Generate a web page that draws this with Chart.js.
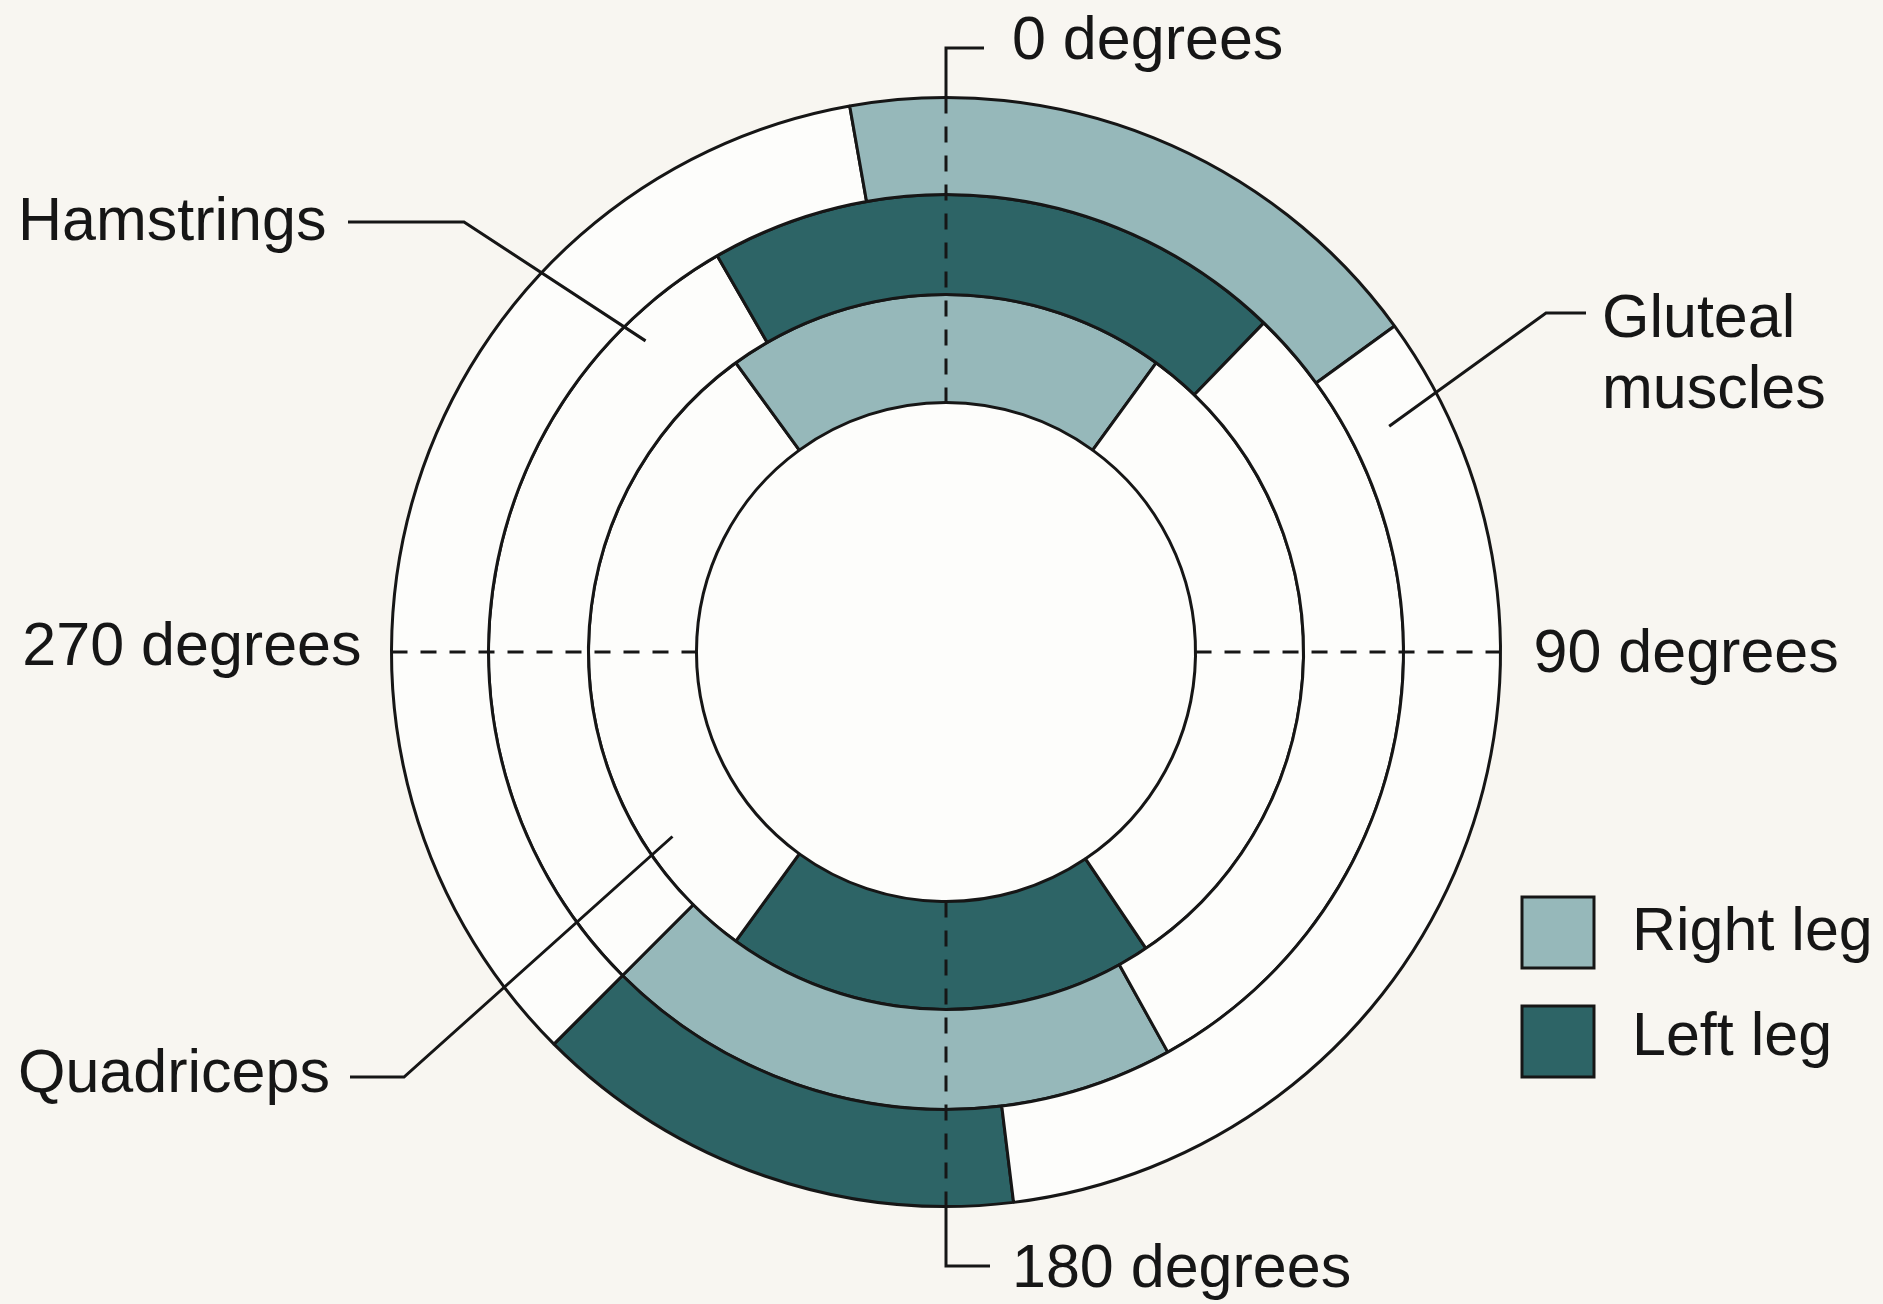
<!DOCTYPE html>
<html>
<head>
<meta charset="utf-8">
<script src="https://cdn.jsdelivr.net/npm/chart.js@4.4.0/dist/chart.umd.min.js"></script>
<style>
  html, body { margin: 0; padding: 0; background: #f8f6f1; }
  #wrap { width: 1883px; height: 1304px; position: relative; }
</style>
</head>
<body>
<div id="wrap"><canvas id="myChart"></canvas></div>
<script>
// rings, outermost first
const muscles = ['Gluteal muscles', 'Hamstrings', 'Quadriceps'];
const legs = ['Right leg', 'Left leg'];

// active arc of each leg, degrees clockwise from 0 (top)
const rightStart = [-10, 151, -36];
const rightEnd   = [54, 225, 36];
const leftStart  = [173, -30, 146];
const leftEnd    = [225, 44, 216];

const axisLabels = ['0 degrees', '90 degrees', '180 degrees', '270 degrees'];

const legColors = ['#96b8ba', '#2d6466'];
const blank = '#fdfdfb';
const ink = '#161616';
const ringWeight = [97, 100, 108];

function buildRing(i) {
  const arcs = [
    {s: rightStart[i], e: rightEnd[i], c: legColors[0]},
    {s: leftStart[i], e: leftEnd[i], c: legColors[1]}
  ].map(function(a) {
    const s = ((a.s % 360) + 360) % 360;
    return {s: s, e: s + (a.e - a.s), c: a.c};
  }).sort(function(a, b) { return a.s - b.s; });

  const data = [], colors = [];
  arcs.forEach(function(a, k) {
    const next = k < arcs.length - 1 ? arcs[k + 1].s : arcs[0].s + 360;
    data.push(a.e - a.s); colors.push(a.c);
    data.push(next - a.e); colors.push(blank);
  });

  return {
    label: muscles[i],
    data: data,
    backgroundColor: colors,
    borderColor: ink,
    borderWidth: 3,
    rotation: arcs[0].s,
    weight: ringWeight[i]
  };
}

const data = {
  datasets: muscles.map(function(m, i) { return buildRing(i); })
};

const decorations = {
  id: 'decorations',
  beforeDatasetsDraw(chart) {
    const {ctx} = chart;
    const inner = chart.getDatasetMeta(2).data[0];
    ctx.save();
    ctx.fillStyle = blank;
    ctx.beginPath();
    ctx.arc(inner.x, inner.y, inner.innerRadius, 0, Math.PI * 2);
    ctx.fill();
    ctx.restore();
  },
  afterDatasetsDraw(chart) {
    const {ctx} = chart;
    const outer = chart.getDatasetMeta(0).data[0];
    const inner = chart.getDatasetMeta(2).data[0];
    const cx = outer.x, cy = outer.y;
    const R = outer.outerRadius, r0 = inner.innerRadius;

    function polar(deg, r) {
      const a = (deg - 90) * Math.PI / 180;
      return [cx + Math.cos(a) * r, cy + Math.sin(a) * r];
    }
    function line(pts) {
      ctx.beginPath();
      ctx.moveTo(pts[0][0], pts[0][1]);
      for (let k = 1; k < pts.length; k++) ctx.lineTo(pts[k][0], pts[k][1]);
      ctx.stroke();
    }

    ctx.save();
    ctx.strokeStyle = ink;
    ctx.lineWidth = 3;
    ctx.lineCap = 'butt';

    // dashed axes across the rings
    ctx.setLineDash([16, 13]);
    line([[cx, cy - R], [cx, cy - r0]]);
    line([[cx, cy + r0], [cx, cy + R]]);
    line([[cx - R, cy], [cx - r0, cy]]);
    line([[cx + r0, cy], [cx + R, cy]]);
    ctx.setLineDash([]);

    // brackets to 0 / 180 labels
    line([[cx + 38, 48], [cx, 48], [cx, cy - R]]);
    line([[cx, cy + R], [cx, 1266], [cx + 44, 1266]]);

    // leader lines
    line([[348, 222], [464, 222], polar(-44, R * 0.78)]);
    line([[1586, 313], [1546, 313], polar(63, R * 0.897)]);
    line([[350, 1077], [404, 1077], polar(236, R * 0.595)]);

    // text
    ctx.fillStyle = ink;
    ctx.font = '61px "Liberation Sans", Arial, sans-serif';
    ctx.textBaseline = 'alphabetic';
    ctx.textAlign = 'left';
    ctx.fillText(axisLabels[0], cx + 66, 59);
    ctx.fillText(axisLabels[2], cx + 66, 1287);
    ctx.fillText(axisLabels[1], cx + R + 33, cy + 20);
    ctx.textAlign = 'right';
    ctx.fillText(axisLabels[3], cx - R - 30, cy + 13);

    ctx.textAlign = 'left';
    ctx.fillText(muscles[1], 18, 240);
    const glut = muscles[0].split(' ');
    ctx.fillText(glut[0], 1602, 337);
    ctx.fillText(glut[1], 1602, 408);
    ctx.fillText(muscles[2], 18, 1092);

    // legend
    const boxY = [897, 1006], textY = [950, 1055];
    legs.forEach(function(name, k) {
      ctx.fillStyle = legColors[k];
      ctx.fillRect(1522, boxY[k], 72, 71);
      ctx.strokeRect(1522, boxY[k], 72, 71);
      ctx.fillStyle = ink;
      ctx.fillText(name, 1632, textY[k]);
    });
    ctx.restore();
  }
};

const config = {
  type: 'doughnut',
  data: data,
  options: {
    responsive: true,
    maintainAspectRatio: false,
    animation: false,
    events: [],
    cutout: '45%',
    layout: { padding: { left: 390, right: 381, top: 96, bottom: 96 } },
    plugins: {
      legend: { display: false },
      tooltip: { enabled: false }
    }
  },
  plugins: [decorations]
};

const myChart = new Chart(document.getElementById('myChart'), config);
</script>
</body>
</html>
